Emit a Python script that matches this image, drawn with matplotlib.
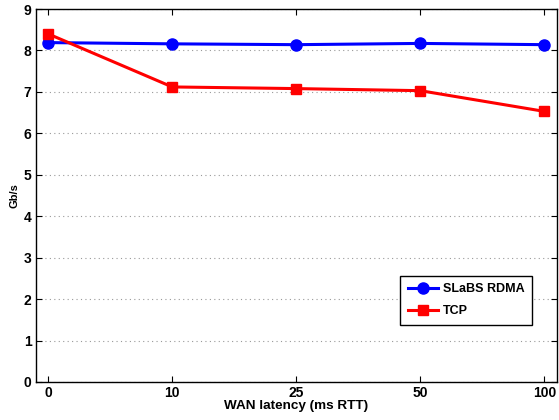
import matplotlib
matplotlib.use("Agg")
import matplotlib.pyplot as plt

latency_labels = ["0", "10", "25", "50", "100"]
rdma_gbps = [8.19, 8.16, 8.14, 8.17, 8.14]
tcp_gbps = [8.40, 7.12, 7.08, 7.03, 6.53]

plt.rcParams["font.family"] = ["Liberation Sans", "DejaVu Sans"]

fig = plt.figure(figsize=(5.59, 4.2), dpi=100)
ax = fig.add_axes([0.064, 0.0905, 0.932, 0.888])

x = list(range(1, len(latency_labels) + 1))
ax.plot(x, rdma_gbps, color="#0000ff", lw=2.2, marker="o", ms=8, label="SLaBS RDMA")
ax.plot(x, tcp_gbps, color="#ff0000", lw=2.2, marker="s", ms=7, label="TCP")

ax.set_xlim(0.9, 5.1)
ax.set_ylim(0, 9)
ax.set_xticks(x)
ax.set_xticklabels(latency_labels)
ax.set_yticks(range(0, 10))
ax.yaxis.grid(True, linestyle=(0, (1, 3)), color="#999999", lw=0.8)
ax.tick_params(direction="in", top=True, right=True, length=4, labelsize=10, pad=3)
for lbl in ax.get_xticklabels() + ax.get_yticklabels():
    lbl.set_fontweight("bold")
for s in ax.spines.values():
    s.set_linewidth(1.0)

ax.set_xlabel("WAN latency (ms RTT)", fontsize=9.7, fontweight="bold", labelpad=0)
ax.set_ylabel("Gb/s", fontsize=8, fontweight="bold", labelpad=3)

leg = ax.legend(loc="lower right", bbox_to_anchor=(0.952, 0.153), borderaxespad=0,
                fancybox=False, edgecolor="black", framealpha=1,
                prop={"weight": "bold", "size": 9},
                handlelength=2.4, handletextpad=0.4, borderpad=0.6, labelspacing=0.8)
leg.get_frame().set_linewidth(1.0)

fig.savefig("out.png", dpi=100)
